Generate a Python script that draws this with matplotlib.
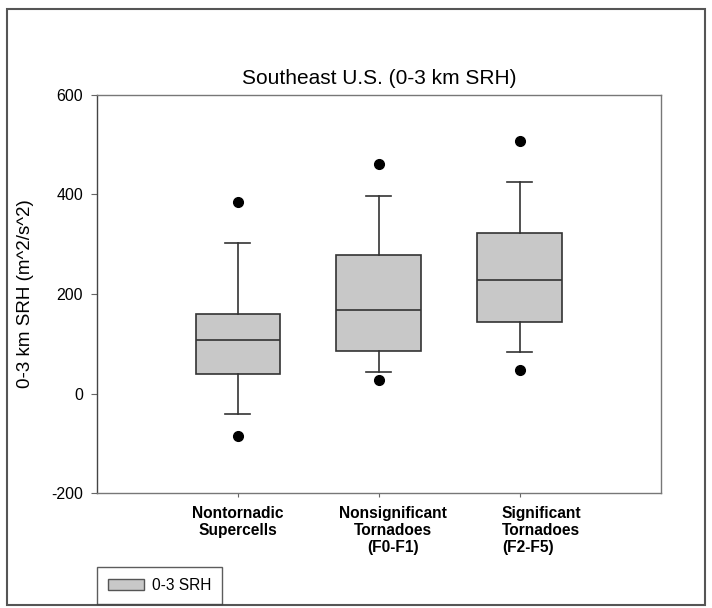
import matplotlib.pyplot as plt
from matplotlib.patches import Rectangle, Patch
from matplotlib.transforms import ScaledTranslation

plt.rcParams['font.family'] = ['Liberation Sans', 'DejaVu Sans']
plt.rcParams['axes.unicode_minus'] = False

# данные
categories = ["Nontornadic\nSupercells",
              "Nonsignificant\nTornadoes\n(F0-F1)",
              "Significant\nTornadoes\n(F2-F5)"]
q1 = [40, 85, 144]
med = [107, 168, 228]
q3 = [159, 279, 323]
whislo = [-42, 44, 83]
whishi = [302, 396, 425]
fliers = [[384, -86], [461, 28], [508, 48]]

yticks = [-200, 0, 200, 400, 600]

stats = []
for i in range(len(categories)):
    stats.append(dict(q1=q1[i], med=med[i], q3=q3[i],
                      whislo=whislo[i], whishi=whishi[i],
                      fliers=fliers[i], label=categories[i]))

fig = plt.figure(figsize=(7.12, 6.08), dpi=100)
ax = fig.add_axes([0.136, 0.189, 0.792, 0.655])

pos = [1, 2, 3]
ax.bxp(stats, positions=pos, widths=0.6, capwidths=0.18,
       patch_artist=True, showfliers=True,
       boxprops=dict(facecolor='#c8c8c8', edgecolor='#333333', linewidth=1.2),
       medianprops=dict(color='#333333', linewidth=1.2),
       whiskerprops=dict(color='#333333', linewidth=1.2),
       capprops=dict(color='#333333', linewidth=1.2),
       flierprops=dict(marker='o', markerfacecolor='black',
                       markeredgecolor='black', markersize=7))

ax.set_xlim(0, 4)
ax.set_ylim(-200, 600)
ax.set_yticks(yticks)
ax.set_xticks(pos)
ax.set_xticklabels(categories, fontweight='bold', fontsize=11.2, linespacing=1.2)
ax.tick_params(axis='y', labelsize=11.5, length=4, pad=6, color='#666666')
ax.tick_params(axis='x', length=3, color='#666666', pad=6)

# подписи 2 и 3 в оригинале сдвинуты вправо от своих засечек
shifts = [0, 14, 22]
for lab, dxp in zip(ax.get_xticklabels(), shifts):
    lab.set_transform(lab.get_transform() + ScaledTranslation(dxp / 100, 0, fig.dpi_scale_trans))
ax.get_xticklabels()[2].set_multialignment('left')

for s in ax.spines.values():
    s.set_color('#777777')
    s.set_linewidth(1.0)
ax.spines['left'].set_color('#444444')

ax.set_ylabel("0-3 km SRH (m^2/s^2)", fontsize=13.5)
ax.yaxis.set_label_coords(-0.126, 0.5)
ax.yaxis.label.set_va('center')
ax.set_title("Southeast U.S. (0-3 km SRH)", fontsize=15, pad=8)

leg = fig.legend(handles=[Patch(facecolor='#c8c8c8', edgecolor='#555555',
                                label='0-3 SRH')],
                 loc='lower left', bbox_to_anchor=(0.136, 0.0066),
                 borderaxespad=0, fontsize=11.2, fancybox=False,
                 edgecolor='#333333', handlelength=2.3, handleheight=0.65,
                 handletextpad=0.5, borderpad=0.72)
leg.get_frame().set_linewidth(1.0)

# рамка вокруг всей картинки
fig.patches.append(Rectangle((0.01, 0.005), 0.98, 0.98, transform=fig.transFigure,
                             fill=False, edgecolor='#555555', linewidth=1.5))

fig.savefig("out.png", dpi=100)
